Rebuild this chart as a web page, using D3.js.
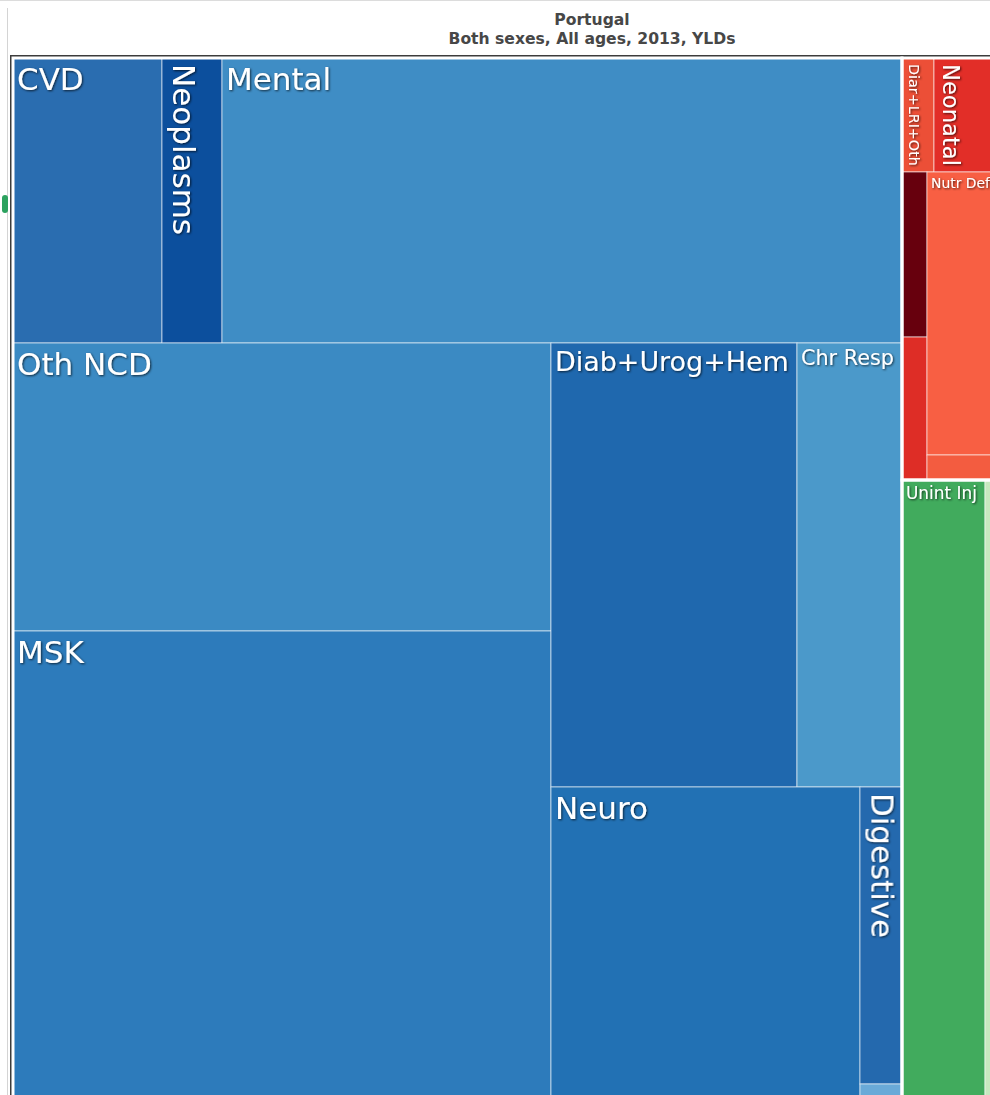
<!DOCTYPE html>
<html lang="en">
<head>
<meta charset="UTF-8">
<title>Portugal - Both sexes, All ages, 2013, YLDs</title>
<script src="https://d3js.org/d3.v7.min.js"></script>
<style>
  body { margin: 0; background: #fff; }
  svg { display: block; font-family: "DejaVu Sans", Verdana, sans-serif; }
</style>
</head>
<body>
<svg></svg>
<script>
const ncdCauses = ["CVD", "Neoplasms", "Mental", "Oth NCD", "MSK", "Diab+Urog+Hem", "Chr Resp", "Neuro", "Digestive", "Cirrhosis"];
const ncdYlds   = [53080, 21380, 242250, 193680, 315400, 136530, 58280, 120900, 15590, 840];

const commCauses = ["Diar+LRI+Oth", "Neonatal", "HIV/AIDS & TB", "NTD & Malaria", "Nutr Def", "Maternal"];
const commYlds   = [4560, 9120, 5160, 4470, 25120, 2220];

const injCauses = ["Unint Inj", "Transport Inj"];
const injYlds   = [64330, 10080];

const titleLines = ["Portugal", "Both sexes, All ages, 2013, YLDs"];

// colours per cause
const color = d3.scaleOrdinal()
    .domain([...ncdCauses, ...commCauses, ...injCauses])
    .range([
        "#2a6db0", "#0c4f9d", "#3f8dc5", "#3b8ac3", "#2d7bbb", "#1f68ae", "#4b99ca", "#2271b4", "#2469ae", "#6aaad8",
        "#ec4f37", "#e22e28", "#67000d", "#de2d26", "#f85f43", "#f35c40",
        "#41ab5d", "#c7e9c0"
    ]);

const width = 990, height = 1095;
const margin = {left: 13, top: 58};
const mapW = 985, mapH = 1042;

const svg = d3.select("svg")
    .attr("width", width)
    .attr("height", height);

// page bits around the chart
svg.append("line")
    .attr("x1", 0).attr("x2", width).attr("y1", 0.5).attr("y2", 0.5)
    .attr("stroke", "#dcdcdc");
svg.append("line")
    .attr("x1", 7.5).attr("x2", 7.5).attr("y1", 8).attr("y2", height)
    .attr("stroke", "#d4d4d4");
svg.append("rect")
    .attr("x", 2).attr("y", 195).attr("width", 6).attr("height", 18).attr("rx", 3)
    .attr("fill", "#2ca25f");

// title
svg.append("g").selectAll("text")
    .data(titleLines)
    .enter()
    .append("text")
    .attr("x", 592)
    .attr("y", (d, i) => 25 + i * 19)
    .attr("text-anchor", "middle")
    .attr("font-weight", "bold")
    .attr("font-size", 15.6)
    .attr("fill", "#474747")
    .text(d => d);

// frame
svg.append("rect")
    .attr("x", margin.left - 2).attr("y", margin.top - 2)
    .attr("width", mapW + 4).attr("height", mapH + 4)
    .attr("fill", "#fff")
    .attr("stroke", "#3c3c3c")
    .attr("stroke-width", 2);

// shadow for labels
const defs = svg.append("defs");
defs.append("filter")
    .attr("id", "shadow")
    .attr("x", "-20%").attr("y", "-20%").attr("width", "140%").attr("height", "140%")
    .append("feDropShadow")
    .attr("dx", 1).attr("dy", 1).attr("stdDeviation", 1.2)
    .attr("flood-color", "#000").attr("flood-opacity", 0.7);

// build the hierarchy, nested like the original slice/dice arrangement
const leaf = (names, vals, group) => i => ({name: names[i], value: vals[i], group: group});
const ncd = leaf(ncdCauses, ncdYlds, "ncd"),
      comm = leaf(commCauses, commYlds, "comm"),
      inj = leaf(injCauses, injYlds, "inj");

const tree = {children: [
    {children: [
        {children: [ncd(0), ncd(1), ncd(2)]},
        {children: [
            {children: [ncd(3), ncd(4)]},
            {children: [
                {children: [ncd(5), ncd(6)]},
                {children: [ncd(7), {children: [ncd(8), ncd(9)]}]}
            ]}
        ]}
    ]},
    {children: [
        {children: [comm(0), comm(1)]},
        {children: [{children: [comm(2), comm(3)]}, {children: [comm(4), comm(5)]}]},
        {children: [inj(0), inj(1)]}
    ]}
]};

const root = d3.hierarchy(tree).sum(d => d.value || 0);
d3.treemap()
    .tile(d3.treemapSliceDice)
    .size([mapW, mapH])(root);

const leaves = root.leaves();

const g = svg.append("g")
    .attr("transform", `translate(${margin.left}, ${margin.top})`);

// tiles
g.append("g")
    .selectAll("rect")
    .data(leaves)
    .enter()
    .append("rect")
    .attr("x", d => d.x0)
    .attr("y", d => d.y0)
    .attr("width", d => d.x1 - d.x0)
    .attr("height", d => d.y1 - d.y0)
    .attr("fill", d => color(d.data.name))
    .attr("stroke", "rgba(255,255,255,0.6)")
    .attr("stroke-width", 1);

// white border round each cause group
const groups = d3.groups(leaves, d => d.data.group).map(([key, ls]) => ({
    key: key,
    x0: d3.min(ls, d => d.x0), y0: d3.min(ls, d => d.y0),
    x1: d3.max(ls, d => d.x1), y1: d3.max(ls, d => d.y1)
}));
g.append("g")
    .selectAll("rect")
    .data(groups)
    .enter()
    .append("rect")
    .attr("x", d => d.x0)
    .attr("y", d => d.y0)
    .attr("width", d => d.x1 - d.x0)
    .attr("height", d => d.y1 - d.y0)
    .attr("fill", "none")
    .attr("stroke", "#fff")
    .attr("stroke-width", 3);

// labels: fit to the tile, turn them on their side when the tile is narrow
const MAX_FONT = 31, MIN_FONT = 12;
const labels = g.append("g")
    .attr("fill", "#fff")
    .attr("filter", "url(#shadow)");

leaves.forEach(d => {
    const w = d.x1 - d.x0, h = d.y1 - d.y0;
    if (Math.min(w, h) < 28) return;
    const t = labels.append("text").attr("font-size", 100).text(d.data.name);
    const k = t.node().getComputedTextLength() / 100;
    const fh = Math.min(MAX_FONT, (w - 12) / k, (h - 8) / 1.2);
    const fv = Math.min(MAX_FONT, (h - 12) / k, (w - 8) / 1.1);
    const vertical = fh < 13 && fv > fh;
    const f = vertical ? fv : fh;
    if (f < MIN_FONT) { t.remove(); return; }
    t.attr("font-size", f);
    if (vertical) {
        t.attr("transform", `translate(${d.x0 + 4 + f * 0.24}, ${d.y0 + 6}) rotate(90)`);
    } else {
        t.attr("x", d.x0 + 4).attr("y", d.y0 + 2 + f * 0.98);
    }
});
</script>
</body>
</html>
